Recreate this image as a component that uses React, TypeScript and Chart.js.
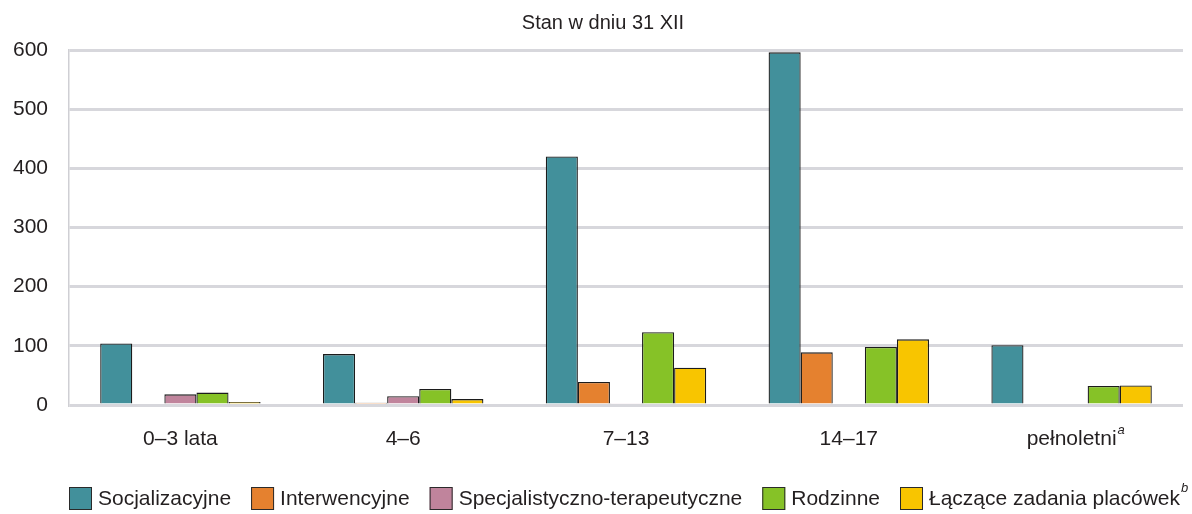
import React, { useEffect, useRef } from "react";
import { Chart, registerables } from "chart.js";

Chart.register(...registerables);

const categories = ["0–3 lata", "4–6", "7–13", "14–17", "pełnoletni"];
const categorySup = ["", "", "", "", "a"];
const seriesNames = [
  "Socjalizacyjne",
  "Interwencyjne",
  "Specjalistyczno-terapeutyczne",
  "Rodzinne",
  "Łączące zadania placówek",
];
const seriesSup = ["", "", "", "", "b"];
const seriesColors = ["#42909b", "#e5812f", "#c0849c", "#86c227", "#f8c500"];
const socjalizacyjne = [104, 86, 420, 596, 101];
const interwencyjne = [null, 4, 39, 89, null];
const specjalistyczne = [18, 15, 2, null, null];
const rodzinne = [21, 27, 123, 98, 32];
const laczace = [5, 10, 63, 111, 33];
const yTicks = [0, 100, 200, 300, 400, 500, 600];
const subtitle = "Stan w dniu 31 XII";

const FONT = "'Liberation Sans', Arial, sans-serif";
const TEXT = "#231f20";

const extrasPlugin = {
  id: "extras",
  afterDraw(chart: any) {
    const ctx = chart.ctx;
    const xs = chart.scales.x;
    ctx.save();
    // subtitle
    ctx.font = `20px ${FONT}`;
    ctx.fillStyle = TEXT;
    ctx.textAlign = "center";
    ctx.textBaseline = "middle";
    ctx.fillText(subtitle, 603, 23);
    // superscripts on x tick labels
    categories.forEach((c, i) => {
      if (!categorySup[i]) return;
      ctx.font = `21px ${FONT}`;
      const w = ctx.measureText(c).width;
      const px = xs.getPixelForTick(i);
      ctx.font = `italic 13px ${FONT}`;
      ctx.fillStyle = TEXT;
      ctx.textAlign = "left";
      ctx.textBaseline = "top";
      ctx.fillText(categorySup[i], px + w / 2 + 1, xs.top + 19);
    });
    // legend
    const boxY = 487;
    const box = 23;
    let x = 69;
    chart.data.datasets.forEach((ds: any, i: number) => {
      ctx.fillStyle = ds.backgroundColor;
      ctx.fillRect(x, boxY, box, box);
      ctx.strokeStyle = "#2a2a2a";
      ctx.lineWidth = 1;
      ctx.strokeRect(x + 0.5, boxY + 0.5, box - 1, box - 1);
      ctx.font = `21px ${FONT}`;
      ctx.fillStyle = TEXT;
      ctx.textAlign = "left";
      ctx.textBaseline = "middle";
      const tx = x + box + 6;
      ctx.fillText(ds.label, tx, boxY + box / 2 + 1);
      const tw = ctx.measureText(ds.label).width;
      if (seriesSup[i]) {
        ctx.font = `italic 13px ${FONT}`;
        ctx.textBaseline = "top";
        ctx.fillText(seriesSup[i], tx + tw + 1, boxY - 5);
      }
      x = tx + tw + 20;
    });
    ctx.restore();
  },
};

export default function App() {
  const ref = useRef<HTMLCanvasElement | null>(null);
  useEffect(() => {
    if (!ref.current) return;
    Chart.defaults.font.family = FONT;
    Chart.defaults.color = TEXT;
    const dataSets = [socjalizacyjne, interwencyjne, specjalistyczne, rodzinne, laczace];
    const chart = new Chart(ref.current, {
      type: "bar",
      data: {
        labels: categories,
        datasets: dataSets.map((d, i) => ({
          label: seriesNames[i],
          data: d,
          backgroundColor: seriesColors[i],
          borderColor: "#1c1c1c",
          borderWidth: 1.3,
          categoryPercentage: 0.72,
          barPercentage: 1.0,
        })),
      },
      options: {
        animation: false,
        responsive: true,
        maintainAspectRatio: false,
        layout: { padding: { left: 0, right: 9, top: 50, bottom: 59 } },
        plugins: {
          legend: { display: false },
          tooltip: { enabled: false },
          title: { display: false },
        },
        scales: {
          x: {
            grid: { display: false },
            border: { display: false },
            ticks: { font: { size: 21 }, padding: 14, color: TEXT },
            afterFit: (s: any) => {
              s.height = 50;
            },
          },
          y: {
            min: 0,
            max: 600,
            afterBuildTicks: (s: any) => {
              s.ticks = yTicks.map((v) => ({ value: v }));
            },
            grid: { color: "#d7d7dc", lineWidth: 3, drawTicks: false },
            border: { display: true, color: "#cfcfd4", width: 1.5 },
            ticks: { font: { size: 21 }, padding: 21, color: TEXT },
            afterFit: (s: any) => {
              s.width = 69;
            },
          },
        },
      },
      plugins: [extrasPlugin],
    });
    return () => chart.destroy();
  }, []);
  return (
    <div style={{ position: "fixed", left: 0, top: 0, width: 1192, height: 514, background: "#fff" }}>
      <canvas ref={ref} />
    </div>
  );
}
